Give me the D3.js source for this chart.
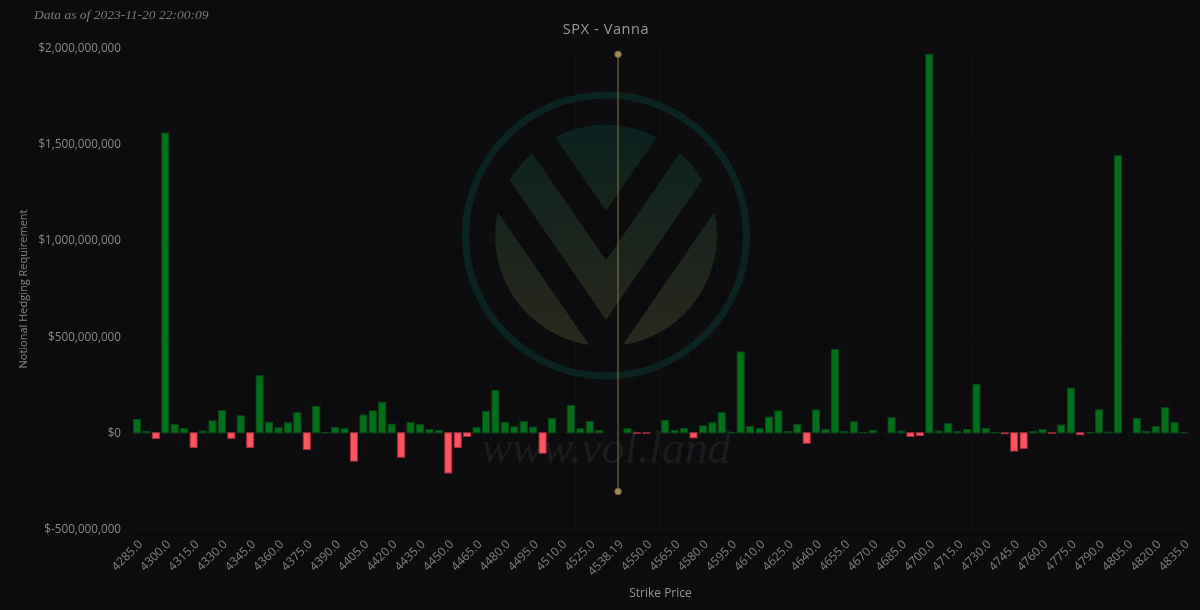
<!DOCTYPE html>
<html><head><meta charset="utf-8">
<script src="https://cdn.jsdelivr.net/npm/d3@7"></script>
<style>html,body{margin:0;padding:0;background:#0c0c0e;}svg{display:block}.gray{filter:grayscale(1)}</style>
</head><body>
<svg id="chart" width="1200" height="610"></svg>
<script>
const strikes = ["4285.0","4290.0","4295.0","4300.0","4305.0","4310.0","4315.0","4320.0","4325.0","4330.0",
"4335.0","4340.0","4345.0","4350.0","4355.0","4360.0","4365.0","4370.0","4375.0","4380.0",
"4385.0","4390.0","4395.0","4400.0","4405.0","4410.0","4415.0","4420.0","4425.0","4430.0",
"4435.0","4440.0","4445.0","4450.0","4455.0","4460.0","4465.0","4470.0","4475.0","4480.0",
"4485.0","4490.0","4495.0","4500.0","4505.0","4510.0","4515.0","4520.0","4525.0","4530.0",
"4535.0","4538.19","4540.0","4545.0","4550.0","4555.0","4560.0","4565.0","4570.0","4575.0",
"4580.0","4585.0","4590.0","4595.0","4600.0","4605.0","4610.0","4615.0","4620.0","4625.0",
"4630.0","4635.0","4640.0","4645.0","4650.0","4655.0","4660.0","4665.0","4670.0","4675.0",
"4680.0","4685.0","4690.0","4695.0","4700.0","4705.0","4710.0","4715.0","4720.0","4725.0",
"4730.0","4735.0","4740.0","4745.0","4750.0","4755.0","4760.0","4765.0","4770.0","4775.0",
"4780.0","4785.0","4790.0","4795.0","4800.0","4805.0","4810.0","4815.0","4820.0","4825.0",
"4830.0","4835.0"];
// Notional vanna, millions of USD
const vannaMillions = [69,7,-29,1558,42,22,-76,9,62,116,
-29,88,-76,296,55,26,52,104,-87,137,
2,28,21,-147,92,114,159,45,-127,54,
42,17,12,-209,-76,-19,28,111,220,54,
31,59,29,-106,74,0,142,21,59,12,
0,0,21,-2,-2,0,64,12,22,-26,
36,52,104,1,420,33,22,81,114,7,
42,-54,119,17,433,7,57,1,12,0,
78,9,-19,-14,1967,9,47,7,17,251,
22,2,-5,-95,-81,7,17,-2,40,232,
-10,2,119,3,1440,0,74,7,33,130,
54,1];
const spotLabel = "4538.19";
const spotLineRangeMillions = [-305, 1967];
const yTicks = [-500e6, 0, 500e6, 1000e6, 1500e6, 2000e6];
const titleText = "SPX - Vanna";
const stampText = "Data as of 2023-11-20 22:00:09";
const yTitle = "Notional Hedging Requirement";
const xTitle = "Strike Price";
const watermarkText = "www.vol.land";

const data = strikes.map((s,i)=>({strike:s, value:vannaMillions[i]*1e6}));

const svg = d3.select("#chart");
const W = 1200, H = 610;
const m = {left:132.3, right:1200-1188.7, top:48, bottom:610-529};
const x = d3.scaleBand().domain(strikes).range([m.left, W-m.right]).paddingInner(0.26).paddingOuter(0.13);
const y = d3.scaleLinear().domain([-500e6, 2000e6]).range([H-m.bottom, m.top]);
const step = x.step();
const cx = s => x(s) + x.bandwidth()/2;

svg.append("rect").attr("width",W).attr("height",H).attr("fill","#0c0c0e");

// grid
const g = svg.append("g");
g.selectAll("line.h").data(yTicks).join("line")
  .attr("x1",m.left).attr("x2",W-m.right).attr("y1",d=>y(d)).attr("y2",d=>y(d))
  .attr("stroke","#131316").attr("stroke-width",1);
const gridIdx = d3.range(0, strikes.length-1, 3);
g.selectAll("line.v").data(gridIdx).join("line")
  .attr("x1",i=>cx(strikes[i])+1.5*step).attr("x2",i=>cx(strikes[i])+1.5*step)
  .attr("y1",m.top).attr("y2",H-m.bottom)
  .attr("stroke","#121215").attr("stroke-width",1);

// watermark logo
const defs = svg.append("defs");
const grad = defs.append("linearGradient").attr("id","lg").attr("x1",0).attr("y1",0).attr("x2",0).attr("y2",1);
grad.append("stop").attr("offset","0%").attr("stop-color","#0a211d");
grad.append("stop").attr("offset","100%").attr("stop-color","#2a281e");
const lcx = 606, lcy = 235.5;
const logo = svg.append("g");
logo.append("circle").attr("cx",lcx).attr("cy",lcy).attr("r",140.5).attr("fill","none").attr("stroke","#0b231f").attr("stroke-width",7);
defs.append("clipPath").attr("id","dc").append("circle").attr("cx",lcx).attr("cy",lcy).attr("r",111);
const lg = logo.append("g").attr("clip-path","url(#dc)");
lg.append("circle").attr("cx",lcx).attr("cy",lcy).attr("r",111).attr("fill","url(#lg)");
const sl = 1.45;
[[lcy],[lcy+109]].forEach(([ay])=>{
  lg.append("path")
    .attr("d",`M${lcx-200},${ay-200*sl} L${lcx},${ay} L${lcx+200},${ay-200*sl}`)
    .attr("fill","none").attr("stroke","#0c0c0e").attr("stroke-width",28).attr("stroke-linejoin","miter").attr("stroke-miterlimit",10);
});
svg.append("text").attr("x",606).attr("y",463).attr("text-anchor","middle")
  .attr("font-family","Liberation Serif, serif").attr("font-style","italic").attr("font-size",46)
  .attr("fill","#ffffff").attr("fill-opacity",0.07).text(watermarkText);

// bars
svg.append("g").selectAll("rect").data(data.filter(d=>d.value!==0)).join("rect")
  .attr("x",d=>x(d.strike)).attr("width",x.bandwidth())
  .attr("y",d=>Math.min(y(d.value),y(0))).attr("height",d=>Math.abs(y(d.value)-y(0)))
  .attr("fill",d=>d.value>0?"#02701a":"#ff5560")
  .attr("stroke",d=>d.value>0?"#0a4a18":"#a83040").attr("stroke-width",1);

// spot line
const sx = cx(spotLabel);
svg.append("line").attr("x1",sx).attr("x2",sx)
  .attr("y1",y(spotLineRangeMillions[1]*1e6)).attr("y2",y(spotLineRangeMillions[0]*1e6))
  .attr("stroke","#8c7646").attr("stroke-width",1);
spotLineRangeMillions.forEach(v=>{
  svg.append("circle").attr("cx",sx).attr("cy",y(v*1e6)).attr("r",3.2).attr("fill","#a08a52").attr("stroke","#7a6a40");
});

const txt = svg.append("g").attr("class","gray");
// y axis labels
const fmt = v => "$" + d3.format(",")(v).replace("\u2212","-");
txt.append("g").selectAll("text").data(yTicks).join("text")
  .attr("x",121).attr("y",d=>y(d)).attr("dy","0.35em").attr("text-anchor","end")
  .attr("font-family","Open Sans, sans-serif").attr("font-size",11.7).attr("fill","#8a8a8a").text(fmt);

// x axis labels
const xl = strikes.filter((s,i)=>i%3===0);
txt.append("g").selectAll("text").data(xl).join("text")
  .attr("transform",d=>`translate(${cx(d)+3},${542}) rotate(-45)`)
  .attr("text-anchor","end").attr("dy","0.35em")
  .attr("font-family","Open Sans, sans-serif").attr("font-size",12).attr("fill","#808080").text(d=>d);

// titles
txt.append("text").attr("x",606).attr("y",34).attr("text-anchor","middle")
  .attr("font-family","Open Sans, sans-serif").attr("font-size",14.5).attr("letter-spacing",0.6).attr("fill","#9a9a9a").text(titleText);
txt.append("text").attr("x",34).attr("y",19)
  .attr("font-family","Liberation Serif, serif").attr("font-style","italic").attr("font-size",13.5).attr("fill","#7c7c7c").text(stampText);
txt.append("text").attr("transform",`translate(27,289) rotate(-90)`).attr("text-anchor","middle")
  .attr("font-family","Open Sans, sans-serif").attr("font-size",11).attr("fill","#858585").text(yTitle);
txt.append("text").attr("x",(m.left+W-m.right)/2).attr("y",597).attr("text-anchor","middle")
  .attr("font-family","Open Sans, sans-serif").attr("font-size",12).attr("fill","#949494").text(xTitle);
</script>
</body></html>
